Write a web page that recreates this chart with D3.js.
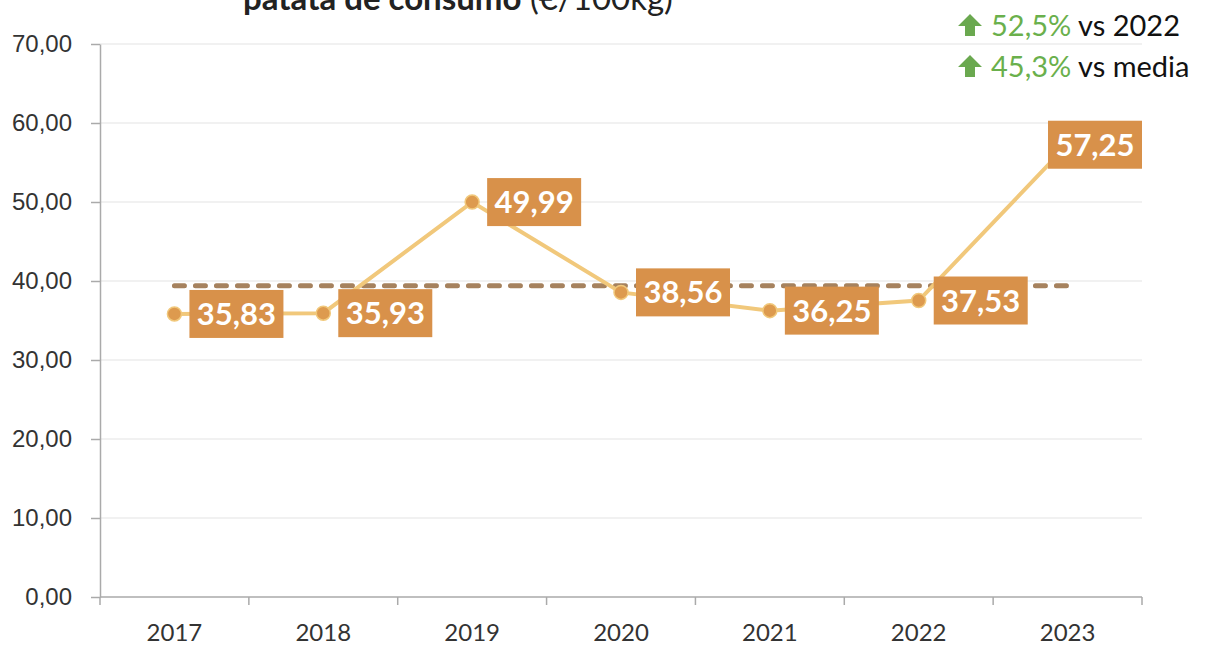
<!DOCTYPE html>
<html>
<head>
<meta charset="utf-8">
<script src="https://cdn.jsdelivr.net/npm/d3@7"></script>
<style>
  body { margin: 0; background: #fff; }
  svg { display: block; font-family: "Source Sans Pro", Lato, "Noto Sans", sans-serif; }
</style>
</head>
<body>
<svg id="chart" width="1207" height="645"></svg>
<script>
// data
const years = ["2017", "2018", "2019", "2020", "2021", "2022", "2023"];
const prices = [35.83, 35.93, 49.99, 38.56, 36.25, 37.53, 57.25];
const media = 39.40;
const yTicks = [0, 10, 20, 30, 40, 50, 60, 70];
const notes = [
    {pct: "52,5%", rest: " vs 2022"},
    {pct: "45,3%", rest: " vs media"}
];

const width = 1207, height = 645;
const margin = {top: 44, right: 65, bottom: 48, left: 100};

const svg = d3.select("#chart");
const fmt = v => d3.format(".2f")(v).replace(".", ",");

const x = d3.scaleBand()
    .domain(years)
    .range([margin.left, width - margin.right]);

const y = d3.scaleLinear()
    .domain([0, 70])
    .range([height - margin.bottom, margin.top]);

const cx = d => x(d) + x.bandwidth() / 2;

// grid
svg.append("g")
    .selectAll("line")
    .data(yTicks.slice(1))
    .join("line")
    .attr("x1", margin.left)
    .attr("x2", width - margin.right)
    .attr("y1", d => y(d))
    .attr("y2", d => y(d))
    .style("stroke", "#ececec")
    .style("stroke-width", "1.5px");

// y axis
const yAxis = svg.append("g")
    .attr("transform", "translate(" + margin.left + ",0)")
    .call(d3.axisLeft(y).tickValues(yTicks).tickFormat(fmt).tickSize(9).tickSizeOuter(0));
yAxis.select(".domain").style("stroke", "#aaa").style("stroke-width", "1.5px");
yAxis.selectAll(".tick line").style("stroke", "#aaa").style("stroke-width", "1.5px");
yAxis.selectAll(".tick text")
    .attr("x", -28)
    .style("font-size", "24px")
    .style("fill", "#333")
    .style("font-family", "inherit");

// x axis: ticks at band boundaries
const xAxisG = svg.append("g")
    .attr("transform", "translate(0," + y(0) + ")");
xAxisG.append("line")
    .attr("x1", margin.left)
    .attr("x2", width - margin.right)
    .style("stroke", "#aaa")
    .style("stroke-width", "1.5px");
const bounds = years.map(d => x(d)).concat([x(years[years.length - 1]) + x.bandwidth()]);
xAxisG.selectAll("line.b")
    .data(bounds)
    .join("line")
    .attr("class", "b")
    .attr("x1", d => d)
    .attr("x2", d => d)
    .attr("y1", 0)
    .attr("y2", 8)
    .style("stroke", "#aaa")
    .style("stroke-width", "1.5px");
xAxisG.selectAll("text")
    .data(years)
    .join("text")
    .attr("x", d => cx(d))
    .attr("y", 44)
    .attr("text-anchor", "middle")
    .style("font-size", "24px")
    .style("fill", "#333")
    .text(d => d);

// average dashed line
svg.append("line")
    .attr("x1", cx(years[0]))
    .attr("x2", cx(years[years.length - 1]) + 2)
    .attr("y1", y(media))
    .attr("y2", y(media))
    .style("stroke", "#a6825e")
    .style("stroke-width", "5px")
    .style("stroke-linecap", "round")
    .style("stroke-dasharray", "10,11");

// price line
const line = d3.line()
    .x((d, i) => cx(years[i]))
    .y(d => y(d));

svg.append("path")
    .datum(prices)
    .attr("d", line)
    .style("fill", "none")
    .style("stroke", "#f1c87b")
    .style("stroke-width", "4px");

svg.append("g")
    .selectAll("circle")
    .data(prices)
    .join("circle")
    .attr("cx", (d, i) => cx(years[i]))
    .attr("cy", d => y(d))
    .attr("r", 7)
    .style("fill", "#dd9a4e")
    .style("stroke", "#f1c87b")
    .style("stroke-width", "1.5px");

// value labels
const boxW = 94, boxH = 48;
const labels = svg.append("g")
    .selectAll("g")
    .data(prices)
    .join("g")
    .attr("transform", (d, i) => {
        let bx = cx(years[i]) + 15;
        bx = Math.min(bx, width - margin.right - boxW);
        return "translate(" + bx + "," + (y(d) - boxH / 2) + ")";
    });
labels.append("rect")
    .attr("width", boxW)
    .attr("height", boxH)
    .style("fill", "#d8914a");
labels.append("text")
    .attr("x", boxW / 2)
    .attr("y", boxH / 2 + 11)
    .attr("text-anchor", "middle")
    .style("font-size", "31px")
    .style("font-weight", "bold")
    .style("fill", "#fff")
    .text(d => fmt(d));

// title (first line sits above the visible area)
const title = svg.append("text")
    .attr("x", 458)
    .attr("y", 10)
    .attr("text-anchor", "middle")
    .style("font-size", "33px")
    .style("fill", "#222");
title.append("tspan").style("font-weight", "bold").text("patata de consumo");
title.append("tspan").text(" (€/100kg)");

// notes top right
const note = svg.append("g")
    .selectAll("g")
    .data(notes)
    .join("g")
    .attr("transform", (d, i) => "translate(958," + (36 + i * 41) + ")");
note.append("path")
    .attr("d", "M12,-22 L24,-10 L17,-10 L17,0 L7,0 L7,-10 L0,-10 Z")
    .style("fill", "#6aa84f");
const nt = note.append("text")
    .attr("x", 33)
    .attr("y", 0)
    .style("font-size", "29px");
nt.append("tspan").style("fill", "#6ab04c").text(d => d.pct);
nt.append("tspan").style("fill", "#111").text(d => d.rest);
</script>
</body>
</html>
